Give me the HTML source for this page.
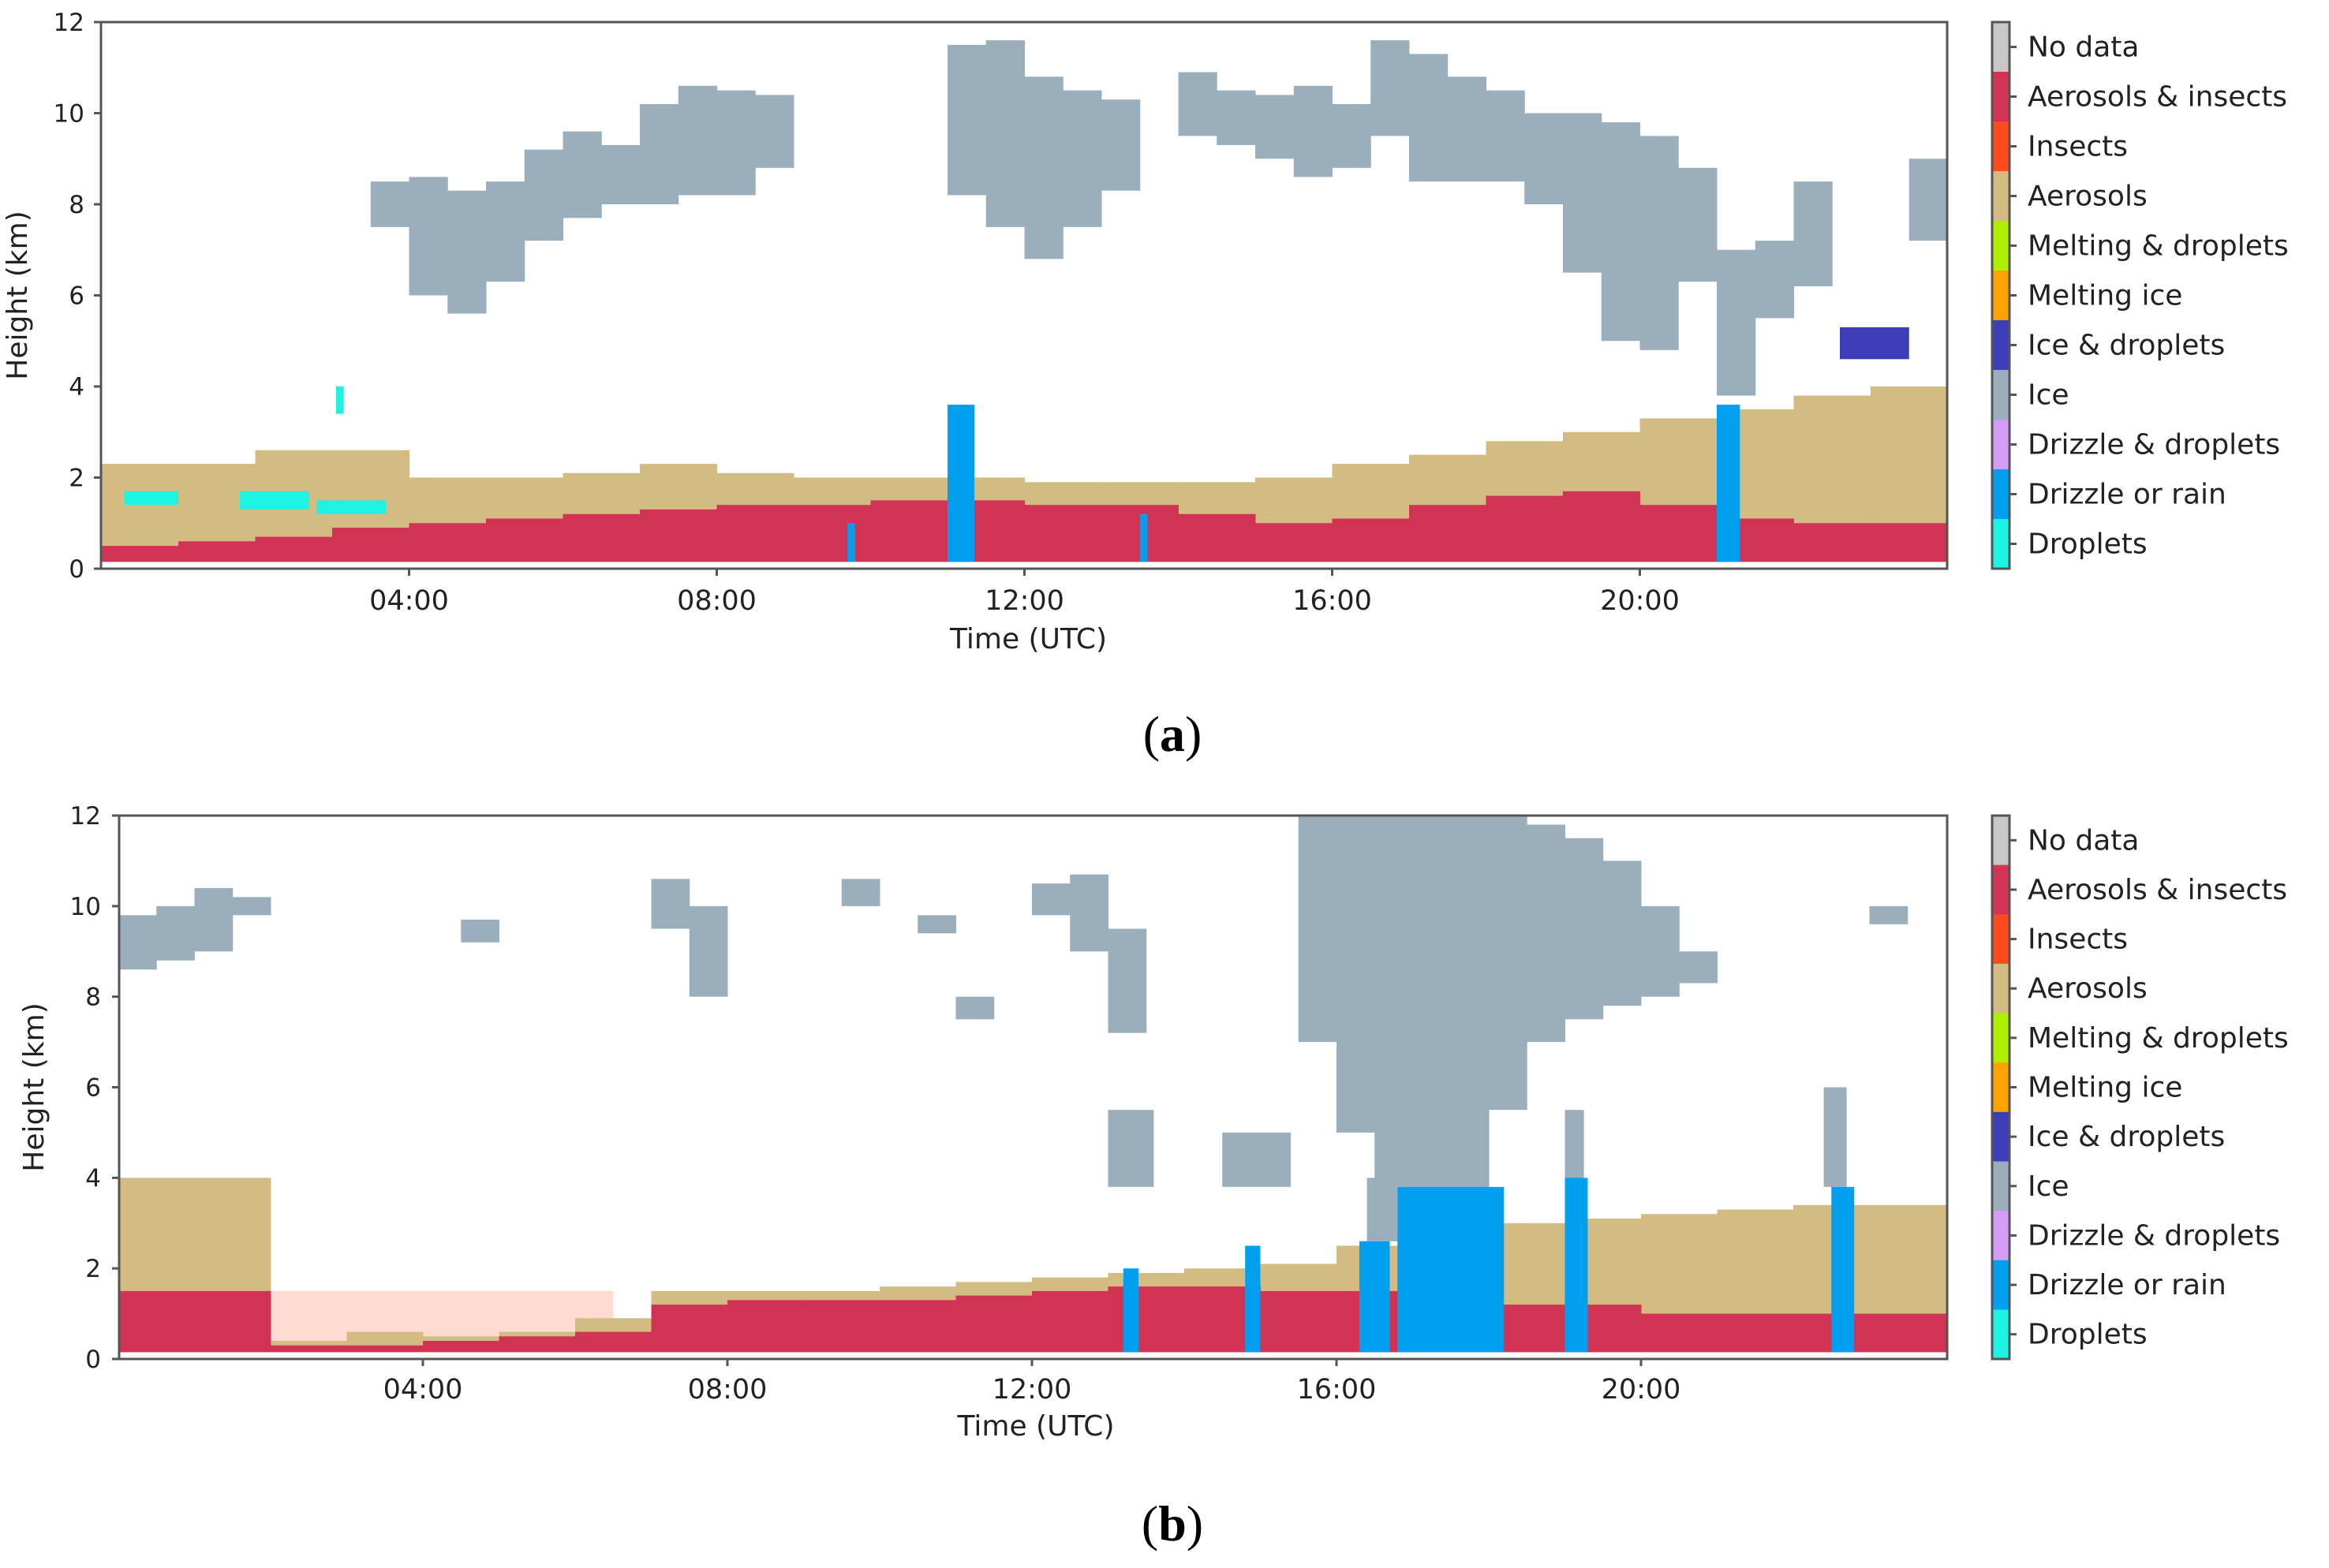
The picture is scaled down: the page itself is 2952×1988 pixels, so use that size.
<!DOCTYPE html>
<html><head><meta charset="utf-8"><style>
html,body{margin:0;padding:0;background:#fff;}
svg{display:block;}
text{font-family:"DejaVu Sans","Liberation Sans",sans-serif;fill:#222;}
</style></head><body>
<svg id="fig" width="2952" height="1988" viewBox="0 0 2952 1988" xmlns="http://www.w3.org/2000/svg">
<rect x="0" y="0" width="2952" height="1988" fill="#fff"/>
<g id="pa"></g>
<g id="pb"></g>
<text x="1486" y="952" text-anchor="middle" style="font-family:'Liberation Serif',serif;font-size:64px;fill:#000">(<tspan font-weight="bold">a</tspan>)</text>
<text x="1486" y="1953" text-anchor="middle" style="font-family:'Liberation Serif',serif;font-size:64px;fill:#000">(<tspan font-weight="bold">b</tspan>)</text>
</svg>
<script>
// ---------- legend / classes ----------
const classNames = ["No data","Aerosols & insects","Insects","Aerosols","Melting & droplets","Melting ice","Ice & droplets","Ice","Drizzle & droplets","Drizzle or rain","Droplets"];
const classColors = ["#c8c8c8","#d23355","#ff4a1c","#d4bb82","#aef000","#ffa200","#3d3db8","#9aaebc","#d59cf5","#00a0ee","#1ef2e0"];
const yTicks = [0,2,4,6,8,10,12];
const xTickHours = [4,8,12,16,20];
const xTickLabels = ["04:00","08:00","12:00","16:00","20:00"];

// ---------- panel (a) data ----------
const aAerTop = [2.3,2.3,2.6,2.6,2.0,2.0,2.1,2.3,2.1,2.0,2.0,2.0,1.9,1.9,1.9,2.0,2.3,2.5,2.8,3.0,3.3,3.5,3.8,4.0];
const aRedTop = [0.5,0.6,0.7,0.9,1.0,1.1,1.2,1.3,1.4,1.4,1.5,1.5,1.4,1.4,1.2,1.0,1.1,1.4,1.6,1.7,1.4,1.1,1.0,1.0];
const aIceTop = [0,0,0,0,0,0,0,8.5,8.6,8.3,8.5,9.2,9.6,9.3,10.2,10.6,10.5,10.4,0,0,0,0,11.5,11.6,10.8,10.5,10.3,0,10.9,10.5,10.4,10.6,10.2,11.6,11.3,10.8,10.5,10.0,10.0,9.8,9.5,8.8,7.0,7.2,8.5,0,0,9.0];
const aIceBase = [0,0,0,0,0,0,0,7.5,6.0,5.6,6.3,7.2,7.7,8.0,8.0,8.2,8.2,8.8,0,0,0,0,8.2,7.5,6.8,7.5,8.3,0,9.5,9.3,9.0,8.6,8.8,9.5,8.5,8.5,8.5,8.0,6.5,5.0,4.8,6.3,3.8,5.5,6.2,0,0,7.2];
const aRainStart = [9.7,11.0,13.5,21.0];
const aRainEnd = [9.8,11.35,13.6,21.3];
const aRainTop = [1.0,3.6,1.2,3.6];
const aDropStart = [0.3,1.8,2.8,3.05];
const aDropEnd = [1.0,2.7,3.7,3.15];
const aDropBase = [1.4,1.3,1.2,3.4];
const aDropTop = [1.7,1.7,1.5,4.0];
const aIceDropStart = [22.6];
const aIceDropEnd = [23.5];
const aIceDropBase = [4.6];
const aIceDropTop = [5.3];

// ---------- panel (b) data ----------
const bAerTop = [4.0,4.0,0.4,0.6,0.5,0.6,0.9,1.5,1.5,1.5,1.6,1.7,1.8,1.9,2.0,2.1,2.5,2.7,3.0,3.1,3.2,3.3,3.4,3.4];
const bRedTop = [1.5,1.5,0.3,0.3,0.4,0.5,0.6,1.2,1.3,1.3,1.3,1.4,1.5,1.6,1.6,1.5,1.5,1.3,1.2,1.2,1.0,1.0,1.0,1.0];
const bIceTop = [9.8,10.0,10.4,10.2,0,0,0,0,0,9.7,0,0,0,0,10.6,10.0,0,0,0,10.6,0,9.8,8.0,0,10.5,10.7,9.5,0,0,0,0,12,12,12,12,12,12,11.8,11.5,11.0,10.0,9.0,0,0,0,0,10.0,0];
const bIceBase = [8.6,8.8,9.0,9.8,0,0,0,0,0,9.2,0,0,0,0,9.5,8.0,0,0,0,10.0,0,9.4,7.5,0,9.8,9.0,7.2,0,0,0,0,7.0,5.0,3.8,3.8,3.8,5.5,7.0,7.5,7.8,8.0,8.3,0,0,0,0,9.6,0];
const bLowIceStart = [13.0,14.5,16.4,19.0,22.4];
const bLowIceEnd = [13.6,15.4,16.8,19.25,22.7];
const bLowIceBase = [3.8,3.8,2.6,3.8,3.8];
const bLowIceTop = [5.5,5.0,4.0,5.5,6.0];
const bRainStart = [13.2,14.8,16.3,16.8,19.0,22.5];
const bRainEnd = [13.4,15.0,16.7,18.2,19.3,22.8];
const bRainTop = [2.0,2.5,2.6,3.8,4.0,3.8];
const bInsStart = [1.5];
const bInsEnd = [6.5];
const bInsTop = [1.5];

const NS = "http://www.w3.org/2000/svg";
function mk(parent, tag, attrs){
  const e = document.createElementNS(NS, tag);
  for (const k in attrs) e.setAttribute(k, attrs[k]);
  parent.appendChild(e);
  return e;
}

function panel(g, L, R, T, B, t0x, pxh, yLabR, yTitleX, tickY, titleY, pre,
               aer, red, iceT, iceB, rS, rE, rT, extras){
  const xs = h => t0x + h*pxh;
  const ys = km => B - (B-T)*km/12;
  const floor = 0.15;
  const clip = mk(g,"clipPath",{id:pre+"clip"});
  mk(clip,"rect",{x:L,y:T,width:R-L,height:B-T});
  const d = mk(g,"g",{"clip-path":"url(#"+pre+"clip)"});
  
  
  if (extras.insS) extras.insS.forEach((s,i)=>{
    const r = mk(d,"rect",{x:xs(s),y:ys(extras.insT[i]),width:xs(extras.insE[i])-xs(s),height:ys(floor)-ys(extras.insT[i]),fill:classColors[2],opacity:0.2});
    
    
  });
  aer.forEach((v,i)=>{
    const r = mk(d,"rect",{x:xs(i),y:ys(v),width:xs(i+1)-xs(i)+0.5,height:ys(floor)-ys(v),fill:classColors[3]});
    
    
  });
  red.forEach((v,i)=>{
    const r = mk(d,"rect",{x:xs(i),y:ys(v),width:xs(i+1)-xs(i)+0.5,height:ys(floor)-ys(v),fill:classColors[1]});
    
    
  });
  iceT.forEach((v,i)=>{
    if (!v) return;
    const r = mk(d,"rect",{x:xs(i*0.5),y:ys(v),width:xs(i*0.5+0.5)-xs(i*0.5)+0.5,height:ys(iceB[i])-ys(v),fill:classColors[7]});
    
    
  });
  if (extras.liS) extras.liS.forEach((s,i)=>{
    const r = mk(d,"rect",{x:xs(s),y:ys(extras.liT[i]),width:xs(extras.liE[i])-xs(s),height:ys(extras.liB[i])-ys(extras.liT[i]),fill:classColors[7]});
    
    
  });
  if (extras.dS) extras.dS.forEach((s,i)=>{
    const r = mk(d,"rect",{x:xs(s),y:ys(extras.dT[i]),width:xs(extras.dE[i])-xs(s),height:ys(extras.dB[i])-ys(extras.dT[i]),fill:classColors[10]});
    
    
  });
  if (extras.idS) extras.idS.forEach((s,i)=>{
    const r = mk(d,"rect",{x:xs(s),y:ys(extras.idT[i]),width:xs(extras.idE[i])-xs(s),height:ys(extras.idB[i])-ys(extras.idT[i]),fill:classColors[6]});
    
    
  });
  rS.forEach((s,i)=>{
    const r = mk(d,"rect",{x:xs(s),y:ys(rT[i]),width:xs(rE[i])-xs(s),height:ys(floor)-ys(rT[i]),fill:classColors[9]});
    
    
  });
  const f = mk(g,"rect",{x:L,y:T,width:R-L,height:B-T,fill:"none",stroke:"#555",'stroke-width':3});
  
  
  yTicks.forEach(v=>{
    mk(g,"line",{x1:L-9,x2:L,y1:ys(v),y2:ys(v),stroke:"#555",'stroke-width':3});
    const t = mk(g,"text",{x:yLabR,y:ys(v)+11,'text-anchor':'end','font-size':31});
    t.textContent = v;
    
    
  });
  xTickHours.forEach((h,i)=>{
    mk(g,"line",{x1:xs(h),x2:xs(h),y1:B,y2:B+9,stroke:"#555",'stroke-width':3});
    const t = mk(g,"text",{x:xs(h),y:tickY,'text-anchor':'middle','font-size':35});
    t.textContent = xTickLabels[i];
    
    
  });
  const yt = mk(g,"text",{x:yTitleX,y:(T+B)/2,'text-anchor':'middle','font-size':36,transform:`rotate(-90 ${yTitleX} ${(T+B)/2})`});
  yt.textContent = "Height (km)";
  
  
  const xt = mk(g,"text",{x:(xs(0)+xs(24))/2+5,y:titleY,'text-anchor':'middle','font-size':36});
  xt.textContent = "Time (UTC)";
  
  
  const cbX = 2525, cbW = 22, segH = (B-T)/classNames.length;
  classNames.forEach((n,i)=>{
    const r = mk(g,"rect",{x:cbX,y:T+i*segH,width:cbW,height:segH+0.5,fill:classColors[i]});
    
    
    mk(g,"line",{x1:cbX+cbW,x2:cbX+cbW+9,y1:T+(i+0.5)*segH,y2:T+(i+0.5)*segH,stroke:"#555",'stroke-width':3});
    const t = mk(g,"text",{x:2570,y:T+(i+0.5)*segH+12,'font-size':36});
    t.textContent = n;
    
    
  });
  const cf = mk(g,"rect",{x:cbX,y:T,width:cbW,height:B-T,fill:"none",stroke:"#555",'stroke-width':3});
  
  
}

panel(document.getElementById('pa'), 128, 2468, 28, 721, 128.5, 97.5, 107, 34, 773, 822, 'a-',
  aAerTop, aRedTop, aIceTop, aIceBase, aRainStart, aRainEnd, aRainTop,
  {dS:aDropStart,dE:aDropEnd,dB:aDropBase,dT:aDropTop,idS:aIceDropStart,idE:aIceDropEnd,idB:aIceDropBase,idT:aIceDropTop});
panel(document.getElementById('pb'), 151, 2468, 1034, 1723, 150, 96.5, 128, 55, 1773, 1820, 'b-',
  bAerTop, bRedTop, bIceTop, bIceBase, bRainStart, bRainEnd, bRainTop,
  {liS:bLowIceStart,liE:bLowIceEnd,liB:bLowIceBase,liT:bLowIceTop,insS:bInsStart,insE:bInsEnd,insT:bInsTop});
</script>
</body></html>
